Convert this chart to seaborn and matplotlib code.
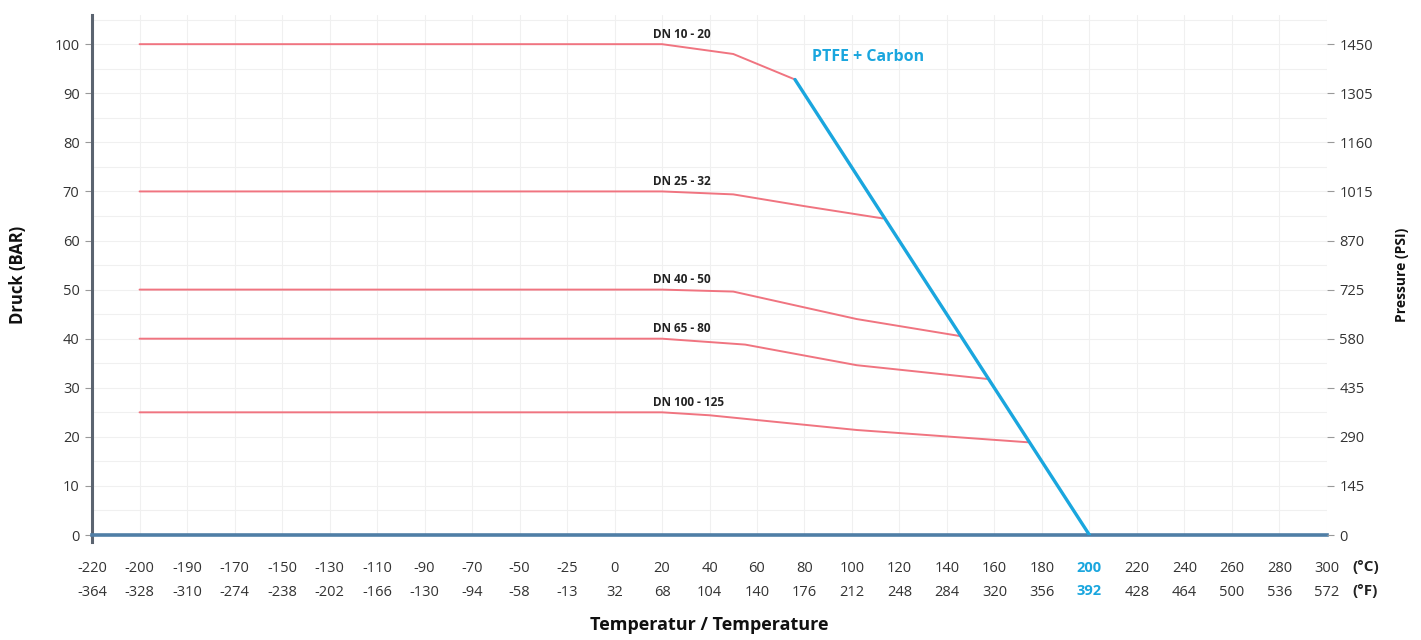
import numpy as np
import pandas as pd
import matplotlib
matplotlib.use("Agg")
import matplotlib.pyplot as plt
import seaborn as sns

# ---- data ----
temp_c_ticks = [-220, -200, -190, -170, -150, -130, -110, -90, -70, -50, -25, 0,
                20, 40, 60, 80, 100, 120, 140, 160, 180, 200, 220, 240, 260, 280, 300]
temp_f_ticks = [-364, -328, -310, -274, -238, -202, -166, -130, -94, -58, -13, 32,
                68, 104, 140, 176, 212, 248, 284, 320, 356, 392, 428, 464, 500, 536, 572]
bar_ticks = [0, 10, 20, 30, 40, 50, 60, 70, 80, 90, 100]
psi_ticks = [0, 145, 290, 435, 580, 725, 870, 1015, 1160, 1305, 1450]

dn10_t = [-200, 20, 50, 76]
dn10_p = [100, 100, 98, 92.8]
dn25_t = [-200, 20, 50, 80, 113]
dn25_p = [70, 70, 69.4, 67.0, 64.5]
dn40_t = [-200, 20, 50, 102, 146]
dn40_p = [50, 50, 49.6, 44.0, 40.5]
dn65_t = [-200, 20, 55, 102, 157]
dn65_p = [40, 40, 38.8, 34.6, 31.8]
dn100_t = [-200, 20, 40, 102, 174]
dn100_p = [25, 25, 24.4, 21.4, 18.9]
ptfe_t = [76, 200]
ptfe_p = [92.8, 0]

series_names = ["DN 10 - 20", "DN 25 - 32", "DN 40 - 50", "DN 65 - 80", "DN 100 - 125"]
series_t = [dn10_t, dn25_t, dn40_t, dn65_t, dn100_t]
series_p = [dn10_p, dn25_p, dn40_p, dn65_p, dn100_p]

RED = "#f07480"
BLUE = "#1aa6de"

idx = np.arange(len(temp_c_ticks))
def to_pos(t):
    return np.interp(t, temp_c_ticks, idx)

rows = []
for name, ts, ps in zip(series_names, series_t, series_p):
    for t, p in zip(ts, ps):
        rows.append({"series": name, "pos": float(to_pos(t)), "bar": p})
df = pd.DataFrame(rows)
df_ptfe = pd.DataFrame({"pos": to_pos(ptfe_t), "bar": ptfe_p})

sns.set_theme(style="white")
plt.rcParams['font.family'] = ['Open Sans', 'DejaVu Sans']

fig = plt.figure(figsize=(14.21, 6.40), dpi=100)
ax = fig.add_axes([0.0648, 0.164, 0.869, 0.813])

# grid
for i in idx:
    ax.axvline(i, color="#f0f0f0", lw=0.8, zorder=0)
for y in np.arange(5, 106, 5):
    ax.axhline(y, color="#f0f0f0", lw=0.8, zorder=0)

sns.lineplot(data=df, x="pos", y="bar", hue="series", palette=[RED] * 5,
             estimator=None, sort=False, lw=1.4, legend=False, ax=ax, zorder=3)
sns.lineplot(data=df_ptfe, x="pos", y="bar", color=BLUE, lw=2.4,
             estimator=None, sort=False, legend=False, ax=ax, zorder=4)

ax.set_xlim(0, 26)
ax.set_ylim(0, 106)

# series labels
lab_x = 11.8
for name, ps in zip(series_names, series_p):
    ax.text(lab_x, ps[0] + 0.7, name, fontsize=8.5, fontweight="bold",
            color="#222222", ha="left", va="bottom")
ax.text(to_pos(83), 97.4, "PTFE + Carbon", fontsize=11.5, fontweight="bold",
        color=BLUE, ha="left", va="center")

# spines
for s in ["top", "right"]:
    ax.spines[s].set_visible(False)
ax.spines["left"].set_color("#5b6470")
ax.spines["left"].set_linewidth(2.2)
ax.spines["left"].set_bounds(-1.5, 106)
ax.spines["bottom"].set_color("#4f7ea6")
ax.spines["bottom"].set_linewidth(2.6)

# x ticks
ax.set_xticks(idx)
ax.set_xticklabels([f"{c}\n{f}" for c, f in zip(temp_c_ticks, temp_f_ticks)],
                   fontsize=10.5, color="#333333", linespacing=1.75)
ax.tick_params(axis="x", length=0, pad=19)
for lab, c in zip(ax.get_xticklabels(), temp_c_ticks):
    if c == 200:
        lab.set_color(BLUE)
        lab.set_fontweight("bold")
fig.text(1352 / 1421, 1 - 567 / 640, "(°C)", fontsize=11, fontweight="bold",
         color="#222222", ha="left", va="center")
fig.text(1352 / 1421, 1 - 591 / 640, "(°F)", fontsize=11, fontweight="bold",
         color="#222222", ha="left", va="center")

# y ticks
ax.set_yticks(bar_ticks)
ax.set_yticklabels([str(b) for b in bar_ticks], fontsize=10.5, color="#333333")
ax.tick_params(axis="y", length=5, width=0.8, color="#999999", pad=4, left=True)
ax.set_ylabel("Druck (BAR)", fontsize=12, fontweight="bold", color="#111111", labelpad=20)
ax.set_xlabel("Temperatur / Temperature", fontsize=13, fontweight="bold",
              color="#111111", labelpad=12)

ax2 = ax.twinx()
ax2.set_ylim(0, 106)
ax2.set_yticks(bar_ticks)
ax2.set_yticklabels([str(p) for p in psi_ticks], fontsize=10.5, color="#333333")
ax2.tick_params(axis="y", length=5, width=0.8, color="#999999", pad=4, right=True)
for s in ["top", "right", "left", "bottom"]:
    ax2.spines[s].set_visible(False)
ax2.set_ylabel("Pressure (PSI)", fontsize=10, fontweight="bold", color="#111111", labelpad=16)
ax2.grid(False)

fig.savefig("out.png", dpi=100, facecolor="white")
